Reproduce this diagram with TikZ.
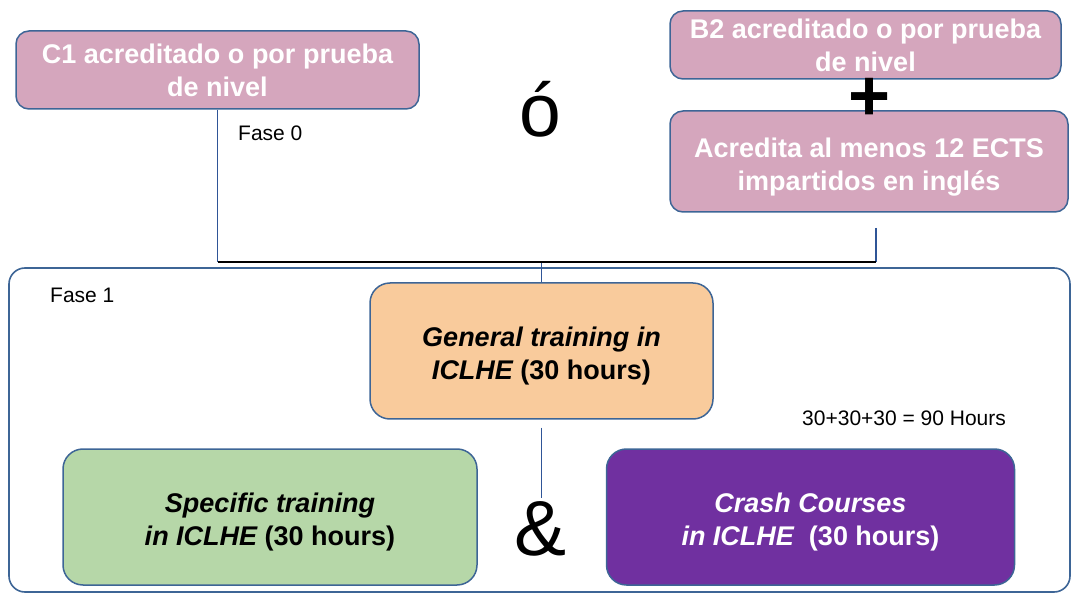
\documentclass[tikz,border=0pt]{standalone}
\usepackage{fontspec}
\setmainfont{Liberation Sans}
\usepackage{xcolor}
\usetikzlibrary{positioning}
\definecolor{reqpink}{HTML}{D5A6BD}
\definecolor{edgeblue}{HTML}{3D6596}
\definecolor{linkblue}{HTML}{2F5597}
\definecolor{genpeach}{HTML}{F9CB9C}
\definecolor{specgreen}{HTML}{B6D7A8}
\definecolor{crashpurple}{HTML}{7030A0}
\newcommand{\padtop}{\rule{0pt}{30pt}}

\begin{document}
\begin{tikzpicture}[x=1pt,y=-1pt,
        req/.style={draw=edgeblue,fill=reqpink,line width=1.5pt,rounded corners=13pt,
            text=white,font=\fontsize{27}{33}\selectfont\bfseries,align=center,inner sep=0pt},
        course/.style={draw=edgeblue,line width=1.5pt,rounded corners=20pt,
            font=\fontsize{27}{33}\selectfont\bfseries,align=center,inner sep=0pt,minimum height=136pt},
        link/.style={linkblue,line width=1.7pt},
        bus/.style={black,line width=2.8pt},
        note/.style={font=\fontsize{21}{25}\selectfont,inner sep=0pt},
        sign/.style={inner sep=0pt}]
    \useasboundingbox (0,0) rectangle (1071,593);

      \node[draw=edgeblue,line width=1.6pt,rounded corners=16pt,minimum width=1061pt,minimum height=324pt] (phase1) at (539.5,430) {};

      \node[req,minimum width=403pt,minimum height=78pt]  (c1)  at (217.5,70)  {C1 acreditado o por prueba\\de nivel};
      \node[req,minimum width=391pt,minimum height=68pt]  (b2)  at (865.5,45)  {B2 acreditado o por prueba\\de nivel};
      \node[req,minimum width=398pt,minimum height=101pt] (ects) at (869,161.5) {\padtop Acredita al menos 12 ECTS\\impartidos en inglés};

      \node[course,fill=genpeach,minimum width=343pt]   (general)  at (541.5,351) {\padtop\itshape General training in\\\itshape ICLHE \upshape(30 hours)};
      \node[course,fill=specgreen,minimum width=414pt]  (specific) at (270,517)   {\padtop\itshape Specific training\\\itshape in ICLHE \upshape(30 hours)};
      \node[course,fill=crashpurple,text=white,minimum width=408pt] (crash) [right=128pt of specific] {\padtop\itshape Crash Courses\\\itshape in ICLHE\ \ \upshape(30 hours)};

      \node[sign,font=\fontsize{75}{75}\selectfont,anchor=base] (or)   at (540,137) {ó};
      \node[sign,font=\fontsize{72}{72}\selectfont\bfseries,anchor=base] (plus) at (870,121) {+};
      \node[sign,font=\fontsize{78}{78}\selectfont,anchor=base] (amp)  at (541,555) {\&};

      \node[note,anchor=base west] (fase0) at (238,141) {Fase 0};
      \node[note,anchor=base west] (fase1) at (50,303)  {Fase 1};
      \node[note,anchor=base west] (total) at (802,425) {30+30+30 = 90 Hours};

      \coordinate (busY) at (0,262);
      \coordinate (busL) at (c1.south |- busY);
      \coordinate (busR) at (876,262);
      \coordinate (ectsEnd) at (876,228);

      \draw[link] (c1.south) -- (busL);
      \draw[link] (ectsEnd) -- (busR);
      \draw[link] (general.north) -- (general.north |- busY);
      \draw[bus]  (busL) -- (busR);
      \draw[link,shorten <=8pt,shorten >=3pt] (general.south) -- (general.south |- amp.north);
    \end{tikzpicture}
\end{document}
